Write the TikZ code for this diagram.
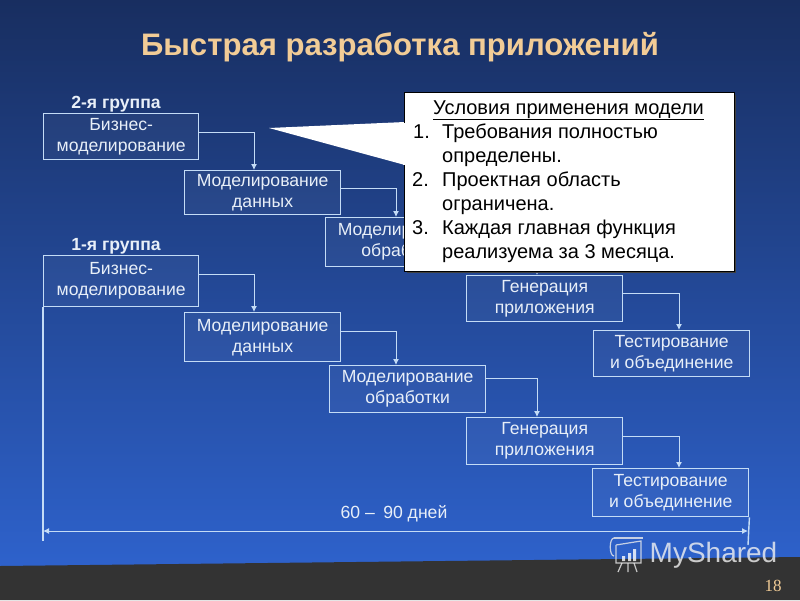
\documentclass[tikz,border=0pt]{standalone}
\usepackage{fontspec}
\setmainfont{Liberation Sans}
\newfontfamily\numfont{Liberation Serif}
\usetikzlibrary{arrows.meta,positioning,shadows}
\definecolor{bgtop}{HTML}{182E60}
\definecolor{bgbot}{HTML}{2E62CC}
\definecolor{band}{HTML}{333333}
\definecolor{titlecol}{HTML}{F2CC96}
\definecolor{ln}{HTML}{C4DCF6}
\definecolor{tx}{HTML}{E8EFF8}
\tikzset{
  box/.style={draw=ln,line width=1.4pt,fill=white,fill opacity=0.04,text opacity=1,text=tx,align=center,font=\fontsize{17.6}{21}\selectfont,anchor=north west,inner sep=0pt},
  arr/.style={draw=ln,line width=1pt,-{Latex[length=6pt,width=6pt]}},
  grp/.style={text=tx,font=\bfseries\fontsize{17.6}{20}\selectfont},
  item/.style={anchor=base west,inner sep=0pt,text=black,font=\fontsize{20}{22}\selectfont},
}
\newcommand{\bx}[6]{\node[box,minimum width=#4pt-#2pt,minimum height=#5pt-#3pt] (#1) at (#2,#3) {#6};}
\begin{document}
\begin{tikzpicture}[x=1pt,y=-1pt]
\useasboundingbox (0,0) rectangle (800,600);
\fill[top color=bgtop,bottom color=bgbot] (0,0) rectangle (800,570);
\fill[band] (0,566) -- (800,557) -- (800,600) -- (0,600) -- cycle;
\node[text=titlecol,font=\bfseries\fontsize{31.1}{34}\selectfont] (title) at (400,47.5) {Быстрая разработка приложений};
\node[grp] (g2) at (116,104) {2-я группа};
\node[grp] (g1) at (116,246) {1-я группа};
\bx{b1}{43}{113}{198}{159}{Бизнес-\\моделирование}
\bx{m1}{184}{170}{340}{214}{Моделирование\\данных}
\bx{p1}{325}{217}{481}{266}{Моделирование\\обработки}
\bx{a1}{466}{275}{622}{321}{Генерация\\приложения}
\bx{t1}{593}{330}{749}{376}{Тестирование\\и объединение}
\bx{b2}{43}{255}{198}{306}{Бизнес-\\моделирование}
\bx{m2}{184}{312}{340}{361}{Моделирование\\данных}
\bx{p2}{329}{365}{485}{412}{Моделирование\\обработки}
\bx{a2}{466}{417}{622}{464}{Генерация\\приложения}
\bx{t2}{592}{468}{748}{516}{Тестирование\\и объединение}
\draw[arr] (b1.east|-0,132) -| (m1.north-|254,0);
\draw[arr] (m1.east|-0,188) -| (p1.north-|396,0);
\draw[arr] (p1.east|-0,236) -| (a1.north-|537,0);
\draw[arr] (a1.east|-0,293) -| (t1.north-|679,0);
\draw[arr] (b2.east|-0,274) -| (m2.north-|254,0);
\draw[arr] (m2.east|-0,331) -| (p2.north-|396,0);
\draw[arr] (p2.east|-0,378) -| (a2.north-|537,0);
\draw[arr] (a2.east|-0,436) -| (t2.north-|679,0);
\coordinate (lb) at (43,541);
\coordinate (rb) at (748,545);
\coordinate (hl) at (43,531);
\coordinate (hr) at (748,531);
\draw[ln,line width=1.4pt] (b2.south west) -- (lb);
\draw[ln,line width=1.4pt] (t2.south east) -- (rb);
\draw[ln,line width=1pt,{Latex[length=6pt,width=6pt]}-{Latex[length=6pt,width=6pt]}] (hl) -- (hr);
\node[text=tx,font=\fontsize{17.6}{20}\selectfont] (span) at (394,513.5) {60 –\hspace{0.2em} 90 дней};
% callout
\fill[black!75] (407,95) rectangle (736,273);
\fill[white] (269,128) -- (405,122) -- (405,165) -- cycle;
\node[draw=black,line width=0.6pt,fill=white,minimum width=330pt,minimum height=179pt,anchor=north west,inner sep=0pt] (call) at (404,92) {};
\fill[white] (403,122.5) rectangle (405,164.5);
\node[item,anchor=base] (ct) at (568.5,114) {\underline{Условия применения модели}};
\node[item] (n1) at (413,138) {1.};
\node[item] (l1) at (442,138) {Требования полностью};
\node[item] (l2) at (442,162) {определены.};
\node[item] (n2) at (412,186) {2.};
\node[item] (l3) at (442,186) {Проектная область};
\node[item] (l4) at (442,210) {ограничена.};
\node[item] (n3) at (412,234) {3.};
\node[item] (l5) at (442,234) {Каждая главная функция};
\node[item] (l6) at (442,258) {реализуема за 3 месяца.};
% watermark
\begin{scope}[draw=white!85!gray,line width=1.2pt,opacity=0.8]
\draw (614,538) .. controls (609,538) and (609,556) .. (614,556);
\draw (614,538) -- (643,538);
\draw (616,545) -- (641,541) -- (641,563) -- (616,563) -- (616,545);
\fill[white] (622,556) rectangle (625,561) (628,553) rectangle (631,561) (633,549) rectangle (636,561);
\draw (622,563) -- (618,572) (628,563) -- (628,572) (634,563) -- (637,572);
\end{scope}
\node[text=white!90!gray,opacity=0.8,font=\fontsize{28}{30}\selectfont,inner sep=0pt] (wm) at (713.5,555) {MyShared};
\node[text=titlecol,font=\numfont\fontsize{17}{18}\selectfont,inner sep=0pt] (pg) at (773,586) {18};
\end{tikzpicture}
\end{document}
